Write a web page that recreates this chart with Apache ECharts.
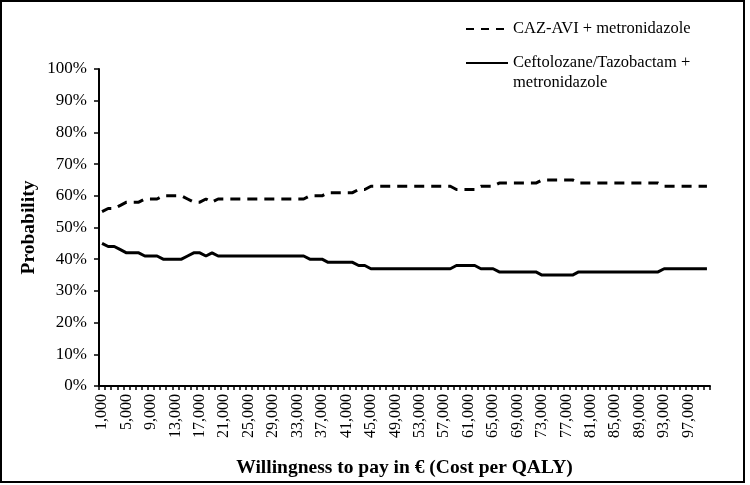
<!DOCTYPE html>
<html>
<head>
<meta charset="utf-8">
<script src="https://cdn.jsdelivr.net/npm/echarts@6/dist/echarts.min.js"></script>
<style>html,body{margin:0;padding:0;background:#fff}#c{width:750px;height:485px}</style>
</head>
<body>
<div id="c"></div>
<script>
var categories = ["1,000","2,000","3,000","4,000","5,000","6,000","7,000","8,000","9,000","10,000",
"11,000","12,000","13,000","14,000","15,000","16,000","17,000","18,000","19,000","20,000",
"21,000","22,000","23,000","24,000","25,000","26,000","27,000","28,000","29,000","30,000",
"31,000","32,000","33,000","34,000","35,000","36,000","37,000","38,000","39,000","40,000",
"41,000","42,000","43,000","44,000","45,000","46,000","47,000","48,000","49,000","50,000",
"51,000","52,000","53,000","54,000","55,000","56,000","57,000","58,000","59,000","60,000",
"61,000","62,000","63,000","64,000","65,000","66,000","67,000","68,000","69,000","70,000",
"71,000","72,000","73,000","74,000","75,000","76,000","77,000","78,000","79,000","80,000",
"81,000","82,000","83,000","84,000","85,000","86,000","87,000","88,000","89,000","90,000",
"91,000","92,000","93,000","94,000","95,000","96,000","97,000","98,000","99,000","100,000"];

var cazAvi = [55,56,56,57,58,58,58,59,59,59,
60,60,60,60,59,58,58,59,58,59,
59,59,59,59,59,59,59,59,59,59,
59,59,59,59,60,60,60,61,61,61,
61,61,62,62,63,63,63,63,63,63,
63,63,63,63,63,63,63,63,62,62,
62,62,63,63,63,64,64,64,64,64,
64,64,65,65,65,65,65,65,64,64,
64,64,64,64,64,64,64,64,64,64,
64,64,63,63,63,63,63,63,63,63];

var cefto = [45,44,44,43,42,42,42,41,41,41,
40,40,40,40,41,42,42,41,42,41,
41,41,41,41,41,41,41,41,41,41,
41,41,41,41,40,40,40,39,39,39,
39,39,38,38,37,37,37,37,37,37,
37,37,37,37,37,37,37,37,38,38,
38,38,37,37,37,36,36,36,36,36,
36,36,35,35,35,35,35,35,36,36,
36,36,36,36,36,36,36,36,36,36,
36,36,37,37,37,37,37,37,37,37];

var seriesNames = ["CAZ-AVI + metronidazole", "Ceftolozane/Tazobactam + metronidazole"];
var yTicks = [0,10,20,30,40,50,60,70,80,90,100];

var FONT = "'Liberation Serif', 'Times New Roman', serif";
var chart = echarts.init(document.getElementById('c'), null, {renderer: 'canvas'});
var legendText = {fontFamily: FONT, fontSize: 16.5, lineHeight: 20, color: '#000'};
chart.setOption({
  animation: false,
  backgroundColor: '#fff',
  grid: {left: 99, right: 40, top: 69, bottom: 99, containLabel: false},
  legend: [
    {
      left: 465, top: 19, padding: 0, orient: 'vertical', selectedMode: false,
      itemWidth: 42, itemHeight: 2, itemGap: 5,
      itemStyle: {opacity: 0},
      lineStyle: {type: [8, 7]},
      data: [seriesNames[0]],
      textStyle: legendText
    },
    {
      left: 465, top: 33, padding: 0, orient: 'vertical', selectedMode: false,
      itemWidth: 42, itemHeight: 2, itemGap: 5,
      itemStyle: {opacity: 0},
      data: [seriesNames[1]],
      formatter: function () { return '\nCeftolozane/Tazobactam +\nmetronidazole'; },
      textStyle: legendText
    }
  ],
  xAxis: {
    type: 'category',
    data: categories,
    boundaryGap: true,
    name: 'Willingness to pay in € (Cost per QALY)',
    nameLocation: 'middle',
    nameGap: 72,
    nameTextStyle: {fontFamily: FONT, fontSize: 19.5, fontWeight: 'bold', color: '#000'},
    axisLine: {lineStyle: {color: '#000', width: 2}},
    axisTick: {show: true, interval: 0, length: 4, lineStyle: {color: '#000', width: 1.5}},
    axisLabel: {interval: 3, rotate: 90, margin: 8, fontFamily: FONT, fontSize: 16, color: '#000'},
    splitLine: {show: false}
  },
  yAxis: {
    type: 'value',
    min: yTicks[0], max: yTicks[yTicks.length - 1], interval: 10,
    name: 'Probability',
    nameLocation: 'middle',
    nameRotate: 90,
    nameGap: 60,
    nameMoveOverlap: false,
    nameTextStyle: {fontFamily: FONT, fontSize: 19.5, fontWeight: 'bold', color: '#000'},
    axisLine: {show: true, lineStyle: {color: '#000', width: 2}},
    axisTick: {show: true, length: 5, lineStyle: {color: '#000', width: 1.5}},
    axisLabel: {formatter: '{value}%', margin: 12, fontFamily: FONT, fontSize: 17, color: '#000'},
    splitLine: {show: false}
  },
  series: [
    {
      name: seriesNames[0], type: 'line', data: cazAvi, symbol: 'none', showSymbol: false,
      lineStyle: {color: '#000', width: 3, type: [10, 7]}, itemStyle: {color: '#000'}
    },
    {
      name: seriesNames[1], type: 'line', data: cefto, symbol: 'none', showSymbol: false,
      lineStyle: {color: '#000', width: 3, type: 'solid'}, itemStyle: {color: '#000'}
    }
  ],
  graphic: [
    {type: 'rect', shape: {x: 1, y: 1, width: 743, height: 481}, style: {fill: 'none', stroke: '#000', lineWidth: 2}, silent: true}
  ]
});
</script>
</body>
</html>
